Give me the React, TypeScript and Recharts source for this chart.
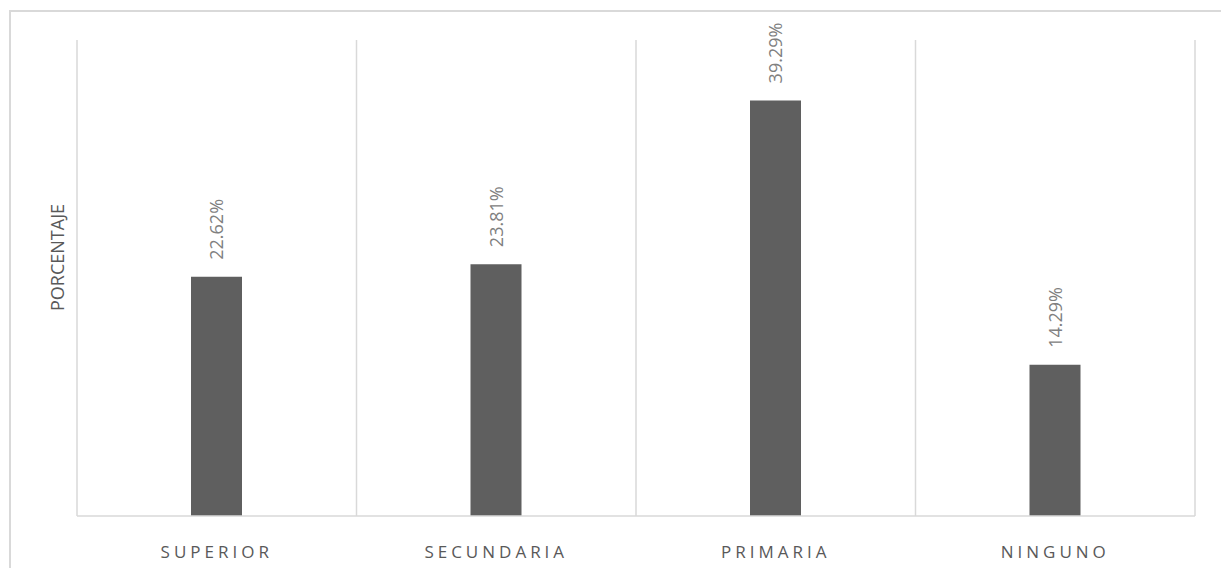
import { BarChart, Bar, XAxis, YAxis, CartesianGrid, LabelList } from "recharts";

const niveles = ["SUPERIOR", "SECUNDARIA", "PRIMARIA", "NINGUNO"];
const porcentajes = [22.62, 23.81, 39.29, 14.29];

const data = niveles.map((nivel, i) => ({ nivel, porcentaje: porcentajes[i] }));

const FONT = "'Open Sans', sans-serif";
const GRID = "#d9d9d9";

// value label sits above the bar, rotated to read bottom-up
function ValueLabel(props: any) {
  const { x, y, width, value } = props;
  const cx = x + width / 2;
  const ty = y - 17;
  return (
    <text
      x={cx}
      y={ty}
      transform={`rotate(-90 ${cx} ${ty})`}
      textAnchor="start"
      dominantBaseline="central"
      fontFamily={FONT}
      fontSize={18}
      fill="#808080"
    >
      {`${value.toFixed(2)}%`}
    </text>
  );
}

function CategoryTick(props: any) {
  const { x, y, payload } = props;
  return (
    <text
      x={x}
      y={y + 34}
      textAnchor="middle"
      fontFamily={FONT}
      fontSize={17}
      letterSpacing={4}
      fill="#595959"
    >
      {payload.value}
    </text>
  );
}

function AxisTitle(props: any) {
  const { viewBox } = props;
  const cx = viewBox.x + 56.5;
  const cy = viewBox.y + viewBox.height / 2 - 20.5;
  return (
    <text
      x={cx}
      y={cy}
      transform={`rotate(-90 ${cx} ${cy})`}
      textAnchor="middle"
      dominantBaseline="central"
      fontFamily={FONT}
      fontSize={18}
      fill="#595959"
    >
      PORCENTAJE
    </text>
  );
}

export default function App() {
  return (
    <div
      style={{
        position: "absolute",
        top: 0,
        left: 0,
        width: 1221,
        height: 568,
        overflow: "hidden",
        background: "#fff",
      }}
    >
      <div
        style={{
          position: "absolute",
          left: 9,
          top: 10,
          width: 1400,
          height: 800,
          border: `2px solid ${GRID}`,
        }}
      />
      <BarChart
        width={1221}
        height={568}
        data={data}
        margin={{ top: 40, right: 26, left: 0, bottom: 0 }}
        style={{ position: "absolute", top: 0, left: 0 }}
      >
        <CartesianGrid
          horizontal={false}
          stroke={GRID}
          strokeWidth={1.5}
          verticalCoordinatesGenerator={({ offset }: any) =>
            niveles
              .map((_, i) => offset.left + (i * offset.width) / niveles.length)
              .concat(offset.left + offset.width)
          }
        />
        <XAxis
          dataKey="nivel"
          height={52}
          axisLine={{ stroke: GRID, strokeWidth: 1.5 }}
          tickLine={false}
          tick={<CategoryTick />}
          interval={0}
        />
        <YAxis
          width={77}
          domain={[0, 45]}
          axisLine={false}
          tickLine={false}
          tick={false}
          label={<AxisTitle />}
        />
        <Bar dataKey="porcentaje" fill="#5f5f5f" barSize={51} isAnimationActive={false}>
          <LabelList dataKey="porcentaje" content={<ValueLabel />} />
        </Bar>
      </BarChart>
    </div>
  );
}
